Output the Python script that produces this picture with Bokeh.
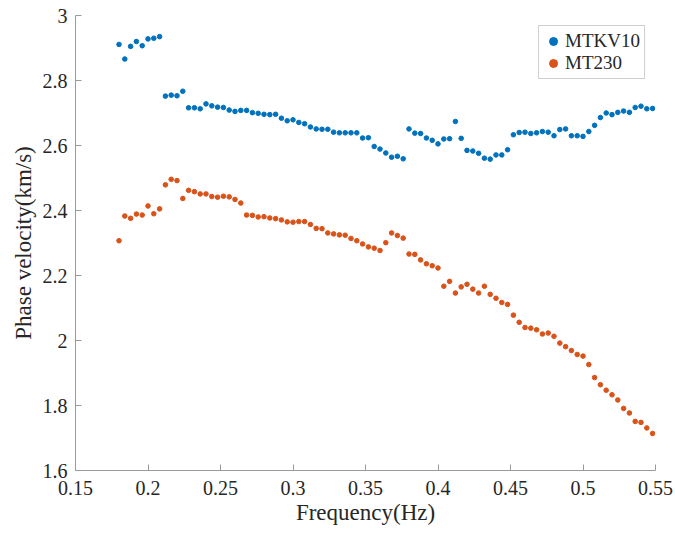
from bokeh.plotting import figure
from bokeh.models import FixedTicker, Range1d
from bokeh.embed import file_html
from bokeh.resources import INLINE

freq = [0.180, 0.184, 0.188, 0.192, 0.196, 0.200, 0.204, 0.208, 0.212, 0.216,
        0.220, 0.224, 0.228, 0.232, 0.236, 0.240, 0.244, 0.248, 0.252, 0.256,
        0.260, 0.264, 0.268, 0.272, 0.276, 0.280, 0.284, 0.288, 0.292, 0.296,
        0.300, 0.304, 0.308, 0.312, 0.316, 0.320, 0.324, 0.328, 0.332, 0.336,
        0.340, 0.344, 0.348, 0.352, 0.356, 0.360, 0.364, 0.368, 0.372, 0.376,
        0.380, 0.384, 0.388, 0.392, 0.396, 0.400, 0.404, 0.408, 0.412, 0.416,
        0.420, 0.424, 0.428, 0.432, 0.436, 0.440, 0.444, 0.448, 0.452, 0.456,
        0.460, 0.464, 0.468, 0.472, 0.476, 0.480, 0.484, 0.488, 0.492, 0.496,
        0.500, 0.504, 0.508, 0.512, 0.516, 0.520, 0.524, 0.528, 0.532, 0.536,
        0.540, 0.544, 0.548]

mtkv10 = [2.911, 2.866, 2.905, 2.920, 2.907, 2.928, 2.930, 2.935,
          2.752, 2.755, 2.753, 2.767, 2.716, 2.716, 2.713, 2.728, 2.722, 2.718,
          2.717, 2.709, 2.705, 2.708, 2.708, 2.701, 2.699, 2.696, 2.695, 2.696,
          2.684, 2.676, 2.679, 2.671, 2.667, 2.657, 2.651, 2.650, 2.650, 2.641,
          2.639,
          2.639, 2.639, 2.639, 2.623, 2.624, 2.597, 2.589, 2.577, 2.564, 2.567,
          2.559, 2.651, 2.638, 2.637, 2.623, 2.616, 2.605, 2.620, 2.621, 2.674,
          2.622, 2.585, 2.583, 2.576, 2.561, 2.558, 2.571, 2.571, 2.587, 2.633,
          2.640, 2.641, 2.637, 2.639, 2.643, 2.641, 2.630, 2.649, 2.651, 2.630,
          2.630, 2.628, 2.643, 2.662, 2.686, 2.700, 2.695, 2.702, 2.706, 2.702,
          2.717, 2.721, 2.713, 2.714]

mt230 = [2.307, 2.383, 2.376, 2.389, 2.386, 2.414, 2.390, 2.405, 2.479, 2.496,
         2.492, 2.437, 2.462, 2.458, 2.451, 2.451, 2.443, 2.441, 2.444, 2.442,
         2.434, 2.423, 2.386, 2.385, 2.380, 2.381, 2.377, 2.375, 2.371, 2.365,
         2.364, 2.366, 2.366, 2.357, 2.345, 2.344, 2.331, 2.328, 2.325,
         2.324, 2.314, 2.307, 2.297, 2.288, 2.284, 2.277, 2.301, 2.331, 2.323,
         2.315, 2.266, 2.265, 2.248, 2.236, 2.230, 2.223, 2.167, 2.182, 2.146,
         2.165, 2.173, 2.158, 2.146, 2.167, 2.142, 2.130, 2.117, 2.111, 2.078,
         2.056, 2.040, 2.038, 2.033, 2.020, 2.023, 2.013, 1.992, 1.981, 1.969,
         1.957, 1.952, 1.926, 1.886, 1.864, 1.847, 1.833, 1.817, 1.791, 1.777,
         1.751, 1.748, 1.731, 1.714]

x_ticks = [0.15, 0.2, 0.25, 0.3, 0.35, 0.4, 0.45, 0.5, 0.55]
x_tick_labels = ["0.15", "0.2", "0.25", "0.3", "0.35", "0.4", "0.45", "0.5", "0.55"]
y_ticks = [1.6, 1.8, 2.0, 2.2, 2.4, 2.6, 2.8, 3.0]
y_tick_labels = ["1.6", "1.8", "2", "2.2", "2.4", "2.6", "2.8", "3"]

FONT = "Liberation Serif"
TEXT = "#262626"
AXIS = "#9a9a9a"

p = figure(width=675, height=534, output_backend="svg", toolbar_location=None,
           x_range=Range1d(0.15, 0.55), y_range=Range1d(1.6, 3.0),
           min_border_left=75, min_border_right=20, min_border_top=15,
           min_border_bottom=64)
p.outline_line_color = None
p.grid.visible = False
p.background_fill_color = "white"
p.border_fill_color = "white"

p.scatter(freq, mtkv10, size=4.6, color="#0072BD", legend_label="MTKV10")
p.scatter(freq, mt230, size=4.6, color="#D95319", legend_label="MT230")

p.xaxis.ticker = FixedTicker(ticks=x_ticks)
p.xaxis.major_label_overrides = dict(zip(x_ticks, x_tick_labels))
p.yaxis.ticker = FixedTicker(ticks=y_ticks)
p.yaxis.major_label_overrides = dict(zip(y_ticks, y_tick_labels))

p.xaxis.axis_label = "Frequency(Hz)"
p.yaxis.axis_label = "Phase velocity(km/s)"

for ax in (p.xaxis[0], p.yaxis[0]):
    ax.axis_line_color = AXIS
    ax.major_tick_line_color = AXIS
    ax.minor_tick_line_color = None
    ax.major_tick_in = 6
    ax.major_tick_out = 0
    ax.major_label_text_font = FONT
    ax.major_label_text_font_size = "20px"
    ax.major_label_text_color = TEXT
    ax.axis_label_text_font = FONT
    ax.axis_label_text_font_size = "23px"
    ax.axis_label_text_font_style = "normal"
    ax.axis_label_text_color = TEXT

p.xaxis.major_label_standoff = 10
p.xaxis.axis_label_standoff = 2
p.yaxis.major_label_standoff = 8
p.yaxis.axis_label_standoff = 4

lg = p.legend[0]
lg.location = "top_right"
lg.margin = 10
lg.padding = 4
lg.spacing = 0
lg.glyph_width = 20
lg.glyph_height = 22
lg.label_height = 22
lg.label_standoff = 2
lg.label_text_font = FONT
lg.label_text_font_size = "19px"
lg.label_text_color = TEXT
lg.border_line_color = "#a0a0a0"
lg.border_line_width = 1
lg.background_fill_color = "white"
lg.background_fill_alpha = 1.0

open("out.html", "w").write(file_html(p, INLINE))
